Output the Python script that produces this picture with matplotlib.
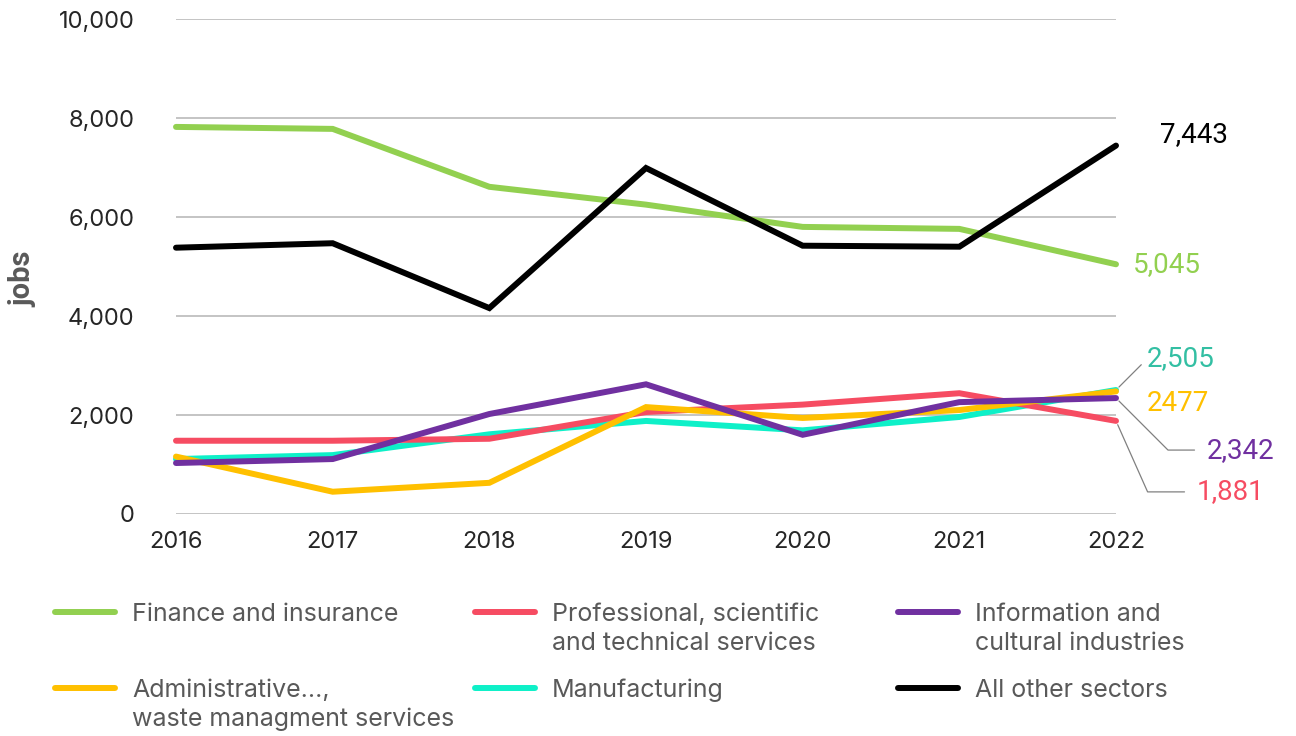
import matplotlib
matplotlib.use("Agg")
import matplotlib.pyplot as plt
from matplotlib.lines import Line2D
from matplotlib.ticker import FuncFormatter

plt.rcParams['font.family'] = ['Inter', 'DejaVu Sans']

# Дані (читання з графіка)
years = [2016, 2017, 2018, 2019, 2020, 2021, 2022]
finance = [7820, 7780, 6610, 6250, 5800, 5760, 5045]
professional = [1480, 1480, 1520, 2060, 2210, 2440, 1881]
information = [1030, 1110, 2020, 2620, 1600, 2260, 2342]
administrative = [1160, 450, 630, 2160, 1940, 2100, 2477]
manufacturing = [1110, 1190, 1610, 1880, 1690, 1960, 2505]
all_other = [5380, 5470, 4160, 6990, 5420, 5400, 7443]

end_labels = ['5,045', '1,881', '2,342', '2477', '2,505', '7,443']

names = ['Finance and insurance',
         'Professional, scientific\nand technical services',
         'Information and\ncultural industries',
         'Administrative...,\nwaste managment services',
         'Manufacturing',
         'All other sectors']
series = [finance, professional, information, administrative, manufacturing, all_other]
colors = ['#92d050', '#f64c62', '#7030a0', '#ffc000', '#0ef0c8', '#000000']
text_colors = ['#92d050', '#f64c62', '#7030a0', '#ffc000', '#33bfa3', '#000000']

fig = plt.figure(figsize=(12.96, 7.36), dpi=100)
ax = fig.add_axes([176 / 1296, 1 - 514 / 736, (1116 - 176) / 1296, (514 - 19) / 736])

draw_order = [4, 1, 3, 2, 0, 5]
for i in draw_order:
    ax.plot(years, series[i], color=colors[i], lw=4.3, solid_capstyle='round',
            solid_joinstyle='miter', clip_on=False, zorder=3)

ax.set_xlim(2016, 2022)
ax.set_ylim(0, 10000)
ax.set_yticks(range(0, 10001, 2000))
ax.yaxis.set_major_formatter(FuncFormatter(lambda v, p: f'{int(v):,}'))
ax.set_xticks(years)
ax.grid(axis='y', color='#bfbfbf', lw=1.3)
ax.set_axisbelow(True)
for s in ax.spines.values():
    s.set_visible(False)
ax.tick_params(length=0, labelsize=17, colors='#262626')
ax.tick_params(axis='y', pad=30)
ax.tick_params(axis='x', pad=12)
ax.set_ylabel('jobs', fontsize=21, fontweight='bold', color='#595959',
              family=['Roboto', 'DejaVu Sans'])
ax.yaxis.set_label_coords(-0.148, 0.475)

# підписи останніх значень
offsets = [(17, 0), (81, -71), (91, -52), (31, -12), (31, 31), (44, 11)]
leaders = [None, 'angle,angleA=0,angleB=-66', 'angle,angleA=0,angleB=-45', None, 'arc3', None]
for i in range(6):
    arrow = None
    if leaders[i] is not None:
        arrow = dict(arrowstyle='-', color='#808080', lw=0.9, relpos=(0, 0.5),
                     connectionstyle=leaders[i], shrinkA=7 if i != 4 else 3, shrinkB=3)
    ax.annotate(end_labels[i], xy=(years[-1], series[i][-1]), xytext=offsets[i],
                textcoords='offset pixels', ha='left', va='center', fontsize=20,
                family=['Roboto', 'DejaVu Sans'],
                color=text_colors[i], arrowprops=arrow, annotation_clip=False)

# легенда вручну
col_x = [55, 475, 898]
row_y = [612, 688]
for k in range(6):
    cx = col_x[k % 3]
    ry = row_y[k // 3]
    fig.add_artist(Line2D([cx / 1296, (cx + 60) / 1296], [1 - ry / 736, 1 - ry / 736],
                          color=colors[k], lw=4.3, solid_capstyle='round'))
    fig.text((cx + 77) / 1296, 1 - (ry - 9) / 736, names[k], ha='left', va='top',
             fontsize=18, color='#595959', linespacing=1.32)

fig.savefig('out.png', dpi=100)
